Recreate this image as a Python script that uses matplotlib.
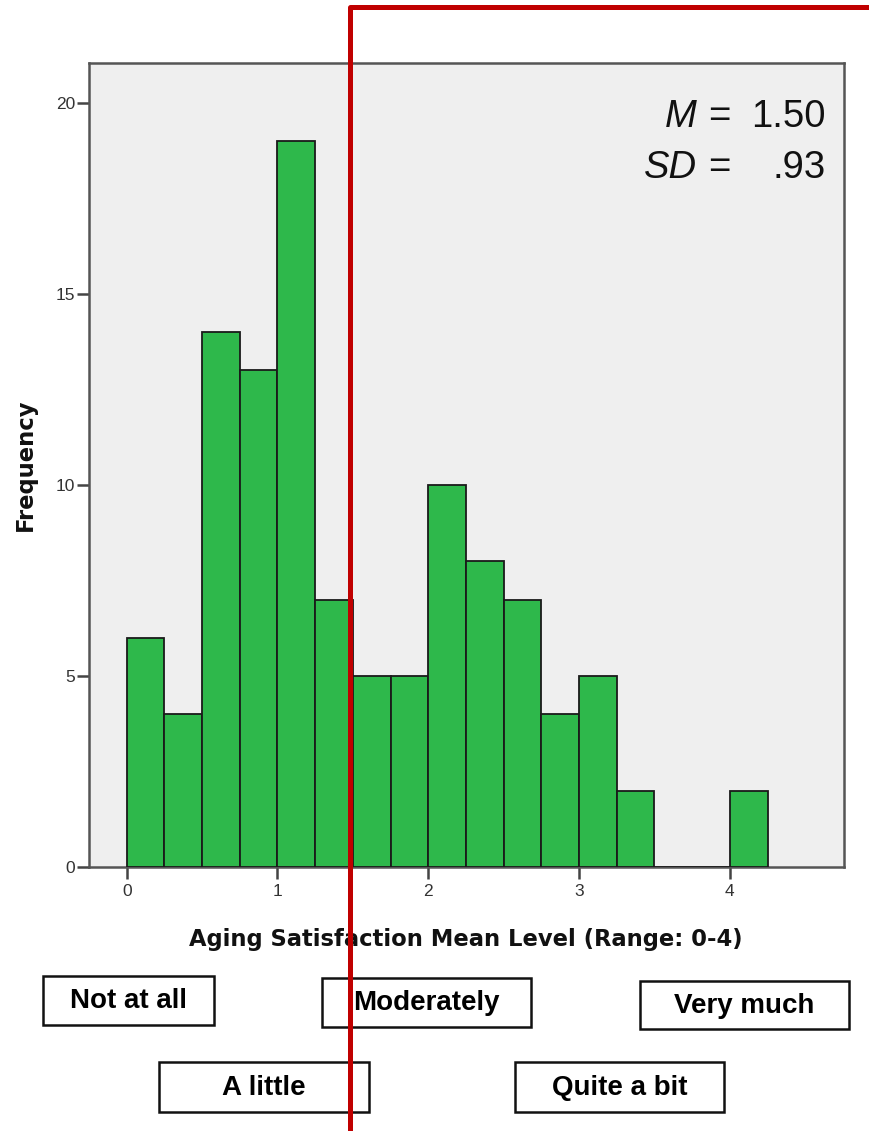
import matplotlib
matplotlib.use("Agg")
import matplotlib.pyplot as plt
from matplotlib.lines import Line2D
from matplotlib.patches import Rectangle

# ---- data ----
bin_starts = [0.0, 0.25, 0.5, 0.75, 1.0, 1.25, 1.5, 1.75, 2.0, 2.25, 2.5, 2.75,
              3.0, 3.25, 3.5, 3.75, 4.0]
counts = [6, 4, 14, 13, 19, 7, 5, 5, 10, 8, 7, 4, 5, 2, 0, 0, 2]
bin_width = 0.25
x_ticks = [0, 1, 2, 3, 4]
y_ticks = [0, 5, 10, 15, 20]
x_label = "Aging Satisfaction Mean Level (Range: 0-4)"
y_label = "Frequency"
mean_text = "1.50"
sd_text = ".93"
box_labels = ["Not at all", "A little", "Moderately", "Quite a bit", "Very much"]

W, H = 869, 1131
fig = plt.figure(figsize=(W / 100, H / 100), dpi=100)
fig.patch.set_facecolor("white")


def fx(px):
    return px / W


def fy(py):
    return 1 - py / H


left, right, top, bottom = 89.3, 844, 63.3, 867
ax = fig.add_axes([fx(left), fy(bottom), fx(right) - fx(left), fy(top) - fy(bottom)])
ax.set_facecolor("#efefef")
ax.bar(bin_starts, counts, width=bin_width, align="edge", color="#2eb84b",
       edgecolor="#1a1a1a", linewidth=1.3, zorder=3)
ax.set_xlim(-0.248, 4.757)
ax.set_ylim(0, 21.04)
ax.set_xticks(x_ticks)
ax.set_yticks(y_ticks)
fam = ["Liberation Sans", "DejaVu Sans"]
ax.tick_params(direction="out", length=8.5, width=1.8, color="#444444",
               labelsize=12.5, labelcolor="#333333")
ax.tick_params(axis="x", pad=4)
ax.tick_params(axis="y", pad=1.5)
for lbl in ax.get_xticklabels() + ax.get_yticklabels():
    lbl.set_family(fam)
for s in ax.spines.values():
    s.set_color("#555555")
    s.set_linewidth(1.8)

bfam = ["DejaVu Sans"]
fig.text(fx(465.5), fy(946), x_label, fontsize=16.3, fontweight="bold", family=bfam,
         ha="center", va="baseline", color="#111111")
fig.text(fx(25), fy(465), y_label, fontsize=16.3, fontweight="bold", family=bfam,
         ha="center", va="center", rotation=90, color="#111111")

# stats text
sfs = 27.5
for italic, num, yc in [("M", mean_text, 117), ("SD", sd_text, 168)]:
    fig.text(fx(697), fy(yc), italic, fontsize=sfs, family=fam, style="italic",
             ha="right", va="center", color="#111111")
    fig.text(fx(719.5), fy(yc), "=", fontsize=sfs, family=fam,
             ha="center", va="center", color="#111111")
    fig.text(fx(826), fy(yc), num, fontsize=sfs, family=fam,
             ha="right", va="center", color="#111111")

# label boxes
box_pos = {
    "Not at all": (43, 976, 214, 1025),
    "A little": (159, 1062, 369, 1112),
    "Moderately": (322, 978, 531, 1027),
    "Quite a bit": (515, 1062, 724, 1112),
    "Very much": (640, 981, 849, 1029),
}
nfam = ["Liberation Sans Narrow", "Liberation Sans", "DejaVu Sans"]
for lab in box_labels:
    x0, y0, x1, y1 = box_pos[lab]
    fig.patches.append(Rectangle((fx(x0), fy(y1)), fx(x1) - fx(x0), fy(y0) - fy(y1),
                                 transform=fig.transFigure, facecolor="white",
                                 edgecolor="#111111", linewidth=1.8, zorder=5))
    fig.text(fx((x0 + x1) / 2), fy((y0 + y1) / 2 + 1), lab, fontsize=20,
             fontweight="bold", family=nfam, ha="center", va="center",
             color="black", zorder=6)

# red bracket line
fig.lines.append(Line2D([fx(350), fx(350), fx(869)], [fy(1131), fy(7), fy(7)],
                        transform=fig.transFigure, color="#c00000", linewidth=3.6,
                        solid_joinstyle="round", zorder=10))

fig.savefig("out.png", dpi=100, facecolor="white")
